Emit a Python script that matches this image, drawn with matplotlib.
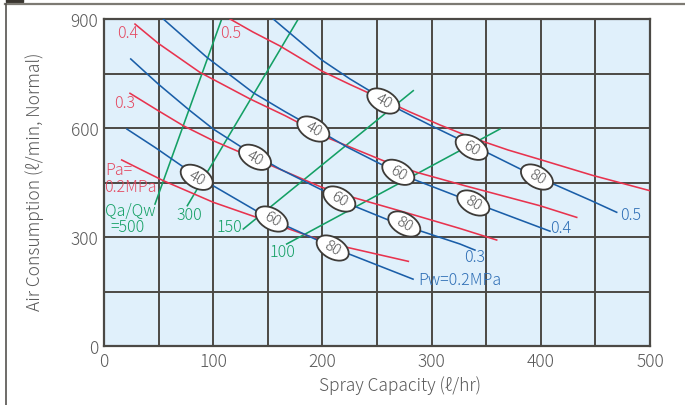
import matplotlib
matplotlib.use('Agg')
import matplotlib.pyplot as plt
from matplotlib.patches import Ellipse, Rectangle
from matplotlib.transforms import ScaledTranslation
from matplotlib.lines import Line2D

plt.rcParams['font.family'] = ['Noto Sans CJK JP', 'DejaVu Sans']
plt.rcParams['font.weight'] = 'light'

# ---------------- data ----------------
# Air pressure curves Pa (red)
pa02_x = [16.2, 54.3, 100.1, 139.8, 165.8, 194.8, 222.3, 278.7]
pa02_y = [512, 455, 395.5, 354, 326, 295, 271.7, 233]
pa03_x = [23.8, 49.7, 72.6, 100.1, 133.7, 165.8, 199.4, 228.0, 274.7, 326.0, 359.6]
pa03_y = [695.5, 647.6, 606.3, 565.0, 521.6, 480.3, 436.8, 409, 368.8, 323.4, 291.7]
pa04_x = [28.4, 49.7, 87.9, 133.7, 165.8, 203.9, 255.8, 286.4, 330.6, 399.3, 432.9]
pa04_y = [886, 833, 753, 680, 634, 574, 510, 478, 441, 386, 354]
pa05_x = [115.4, 136.4, 161.2, 199.4, 225.3, 255.5, 280.2, 307.7, 335.2, 370.0, 399.3, 447.8, 500]
pa05_y = [900, 864.2, 825.7, 756.9, 719.7, 678.4, 644.0, 608.3, 575.2, 539.5, 513.3, 469.3, 427.4]

# Water pressure curves Pw (blue)
pw02_x = [21, 47, 73, 100, 140, 160, 195, 222, 283]
pw02_y = [597, 546, 492, 441, 371, 340, 292, 256, 184]
pw03_x = [24.5, 49.7, 78.8, 100.1, 126.1, 161.2, 200.8, 228.3, 261.9, 289.4, 326, 339.7]
pw03_y = [790, 721, 647.6, 597, 547, 487, 427.4, 386, 345, 317, 280.7, 264]
pw04_x = [54.3, 94, 136.7, 165.8, 207, 222.3, 255.8, 283.2, 330.6, 353.5, 408.4]
pw04_y = [900, 795, 697, 645, 575, 548, 497, 459, 404, 378, 316]
pw05_x = [155.0, 165.8, 199.4, 225.3, 243.6, 269.5, 298.4, 323.0, 353.5, 384.0, 411.5, 444.9, 469.5]
pw05_y = [900, 872.5, 787.2, 734.9, 701.8, 652.3, 608.3, 572.5, 528.5, 483.0, 445.9, 401.8, 368.0]

# Qa/Qw ratio lines (green), end points
qa500_x = [46.7, 107.8]
qa500_y = [390.7, 900]
qa300_x = [76.3, 177.9]
qa300_y = [386.2, 900]
qa150_x = [127.6, 283.2]
qa150_y = [322, 702.7]
qa100_x = [167.3, 362.6]
qa100_y = [280.7, 597.2]

# Oval markers (value, x, y)
oval_vals = ['40', '40', '40', '40', '60', '60', '60', '60', '80', '80', '80', '80']
oval_x = [84.9, 138.3, 191.7, 255.8, 153.6, 215.5, 269.5, 336.7, 209.4, 275.0, 338.2, 396.5]
oval_y = [464.3, 519.4, 597.2, 674.3, 349.5, 404.6, 478.1, 546.9, 269.7, 335.8, 393.6, 465.1]

x_ticks = [0, 100, 200, 300, 400, 500]
y_ticks = [0, 300, 600, 900]
x_label = 'Spray Capacity (ℓ/hr)'
y_label = 'Air Consumption (ℓ/min, Normal)'

# ---------------- styles ----------------
RED = '#e8334e'
RED_T = '#e44a62'
BLUE = '#1a5ea8'
BLUE_T = '#2f6fb6'
GREEN = '#14a065'
GRID = '#4b4945'
TXT = '#5a5a5a'

fig = plt.figure(figsize=(6.85, 4.06), dpi=100)
ax = fig.add_axes([104/685, 1-347/406, 546/685, 327/406])
ax.set_facecolor('#e0f0fb')
ax.set_xlim(0, 500)
ax.set_ylim(0, 900)

for xv in range(50, 500, 50):
    ax.axvline(xv, color=GRID, lw=1.4, zorder=1)
for yv in range(150, 900, 150):
    ax.axhline(yv, color=GRID, lw=1.4, zorder=1)
for s in ax.spines.values():
    s.set_color(GRID)
    s.set_linewidth(1.6)

ax.set_xticks(x_ticks)
ax.set_yticks(y_ticks)
ax.tick_params(length=0, labelsize=12.5, colors=TXT, pad=4)

lw = 1.15
for xs, ys in [(pa02_x, pa02_y), (pa03_x, pa03_y), (pa04_x, pa04_y), (pa05_x, pa05_y)]:
    ax.plot(xs, ys, color=RED, lw=lw, zorder=3)
for xs, ys in [(pw02_x, pw02_y), (pw03_x, pw03_y), (pw04_x, pw04_y), (pw05_x, pw05_y)]:
    ax.plot(xs, ys, color=BLUE, lw=lw, zorder=3)
for xs, ys in [(qa500_x, qa500_y), (qa300_x, qa300_y), (qa150_x, qa150_y), (qa100_x, qa100_y)]:
    ax.plot(xs, ys, color=GREEN, lw=lw, zorder=2)

# ovals
for v, xo, yo in zip(oval_vals, oval_x, oval_y):
    tr = fig.dpi_scale_trans + ScaledTranslation(xo, yo, ax.transData)
    e = Ellipse((0, 0), 0.35, 0.21, angle=-30, transform=tr, facecolor='white',
                edgecolor='#3d3b38', lw=1.3, zorder=5)
    ax.add_patch(e)
    ax.text(xo, yo, v, rotation=-30, rotation_mode='anchor', ha='center', va='center',
            fontsize=11, color='#555', zorder=6)


def pt(px, py):
    return ((px - 104) / 1.092, (347 - py) / 0.36333)


fs = 11.5
for s, (px, py) in [('0.4', (128, 34)), ('0.5', (231, 34)), ('0.3', (125, 104))]:
    ax.text(*pt(px, py), s, color=RED_T, fontsize=fs, ha='center', va='center')
ax.text(*pt(105, 171), 'Pa=', color=RED_T, fontsize=fs, ha='left', va='center')
ax.text(*pt(104, 188), '0.2MPa', color=RED_T, fontsize=fs, ha='left', va='center')

# green labels
ax.text(*pt(105, 212), 'Qa/Qw', color=GREEN, fontsize=fs, ha='left', va='center')
ax.text(*pt(128, 228), '=500', color=GREEN, fontsize=fs, ha='center', va='center')
ax.text(*pt(189, 216), '300', color=GREEN, fontsize=fs, ha='center', va='center')
ax.text(*pt(229, 228), '150', color=GREEN, fontsize=fs, ha='center', va='center')
ax.text(*pt(282, 253), '100', color=GREEN, fontsize=fs, ha='center', va='center')

# blue labels
ax.text(*pt(418, 281), 'Pw=0.2MPa', color=BLUE_T, fontsize=fs, ha='left', va='center')
ax.text(*pt(475, 258), '0.3', color=BLUE_T, fontsize=fs, ha='center', va='center')
ax.text(*pt(561, 229), '0.4', color=BLUE_T, fontsize=fs, ha='center', va='center')
ax.text(*pt(631, 216), '0.5', color=BLUE_T, fontsize=fs, ha='center', va='center')

fig.text(400/685, 1-386/406, x_label, ha='center', va='center', fontsize=12.5, color=TXT)
fig.text(35/685, 1-182/406, y_label, ha='center', va='center', rotation=90, fontsize=12.5, color=TXT)

# outer frame pieces
fig.add_artist(Line2D([5/685, 1], [1-5/406, 1-5/406], color='#7d7a73', lw=1.6))
fig.add_artist(Line2D([6/685, 6/685], [0, 1-5/406], color='#55534f', lw=1.2))
fig.add_artist(Rectangle((6/685, 1-3/406), 17/685, 3/406, color='#3a3630', transform=fig.transFigure))

fig.savefig('out.png', dpi=100)
